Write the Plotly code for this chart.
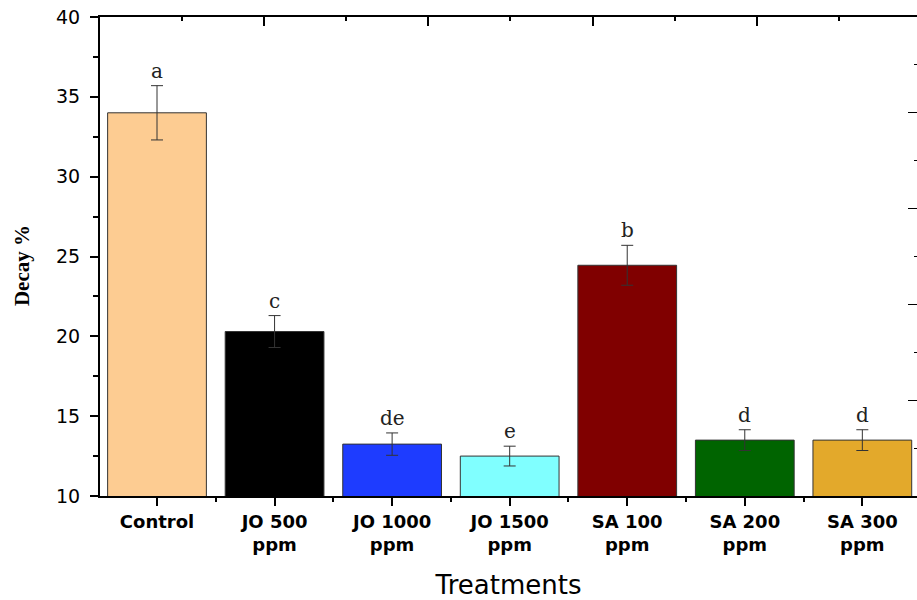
import plotly.graph_objects as go

categories = ["Control", "JO 500<br>ppm", "JO 1000<br>ppm", "JO 1500<br>ppm",
              "SA 100<br>ppm", "SA 200<br>ppm", "SA 300<br>ppm"]
decay = [34.0, 20.3, 13.25, 12.5, 24.45, 13.5, 13.5]
errors = [1.7, 1.0, 0.7, 0.62, 1.25, 0.65, 0.65]
letters = ["a", "c", "de", "e", "b", "d", "d"]
colors = ["#FDCC92", "#000000", "#1E3CFF", "#80FFFF", "#800000", "#006400", "#E3A92B"]

xpos = list(range(len(categories)))

fig = go.Figure()
fig.add_trace(go.Bar(
    x=xpos, y=decay, width=0.84,
    marker=dict(color=colors, line=dict(color="#333333", width=1)),
    error_y=dict(type="data", array=errors, color="#333333", thickness=1, width=6),
    showlegend=False,
))
# empty helper trace so the frame axes (top / right) are rendered
fig.add_trace(go.Scatter(x=[None], y=[None], xaxis="x2", yaxis="y2", mode="markers",
                         showlegend=False, hoverinfo="skip"))

for xi, v, e, t in zip(xpos, decay, errors, letters):
    fig.add_annotation(x=xi, y=v + e, text=t, showarrow=False, yanchor="bottom",
                       yshift=1, font=dict(family="DejaVu Serif", size=20, color="#222222"))

# y-axis title (placed slightly below the axis centre as in the reference)
fig.add_annotation(xref="paper", yref="paper", x=0, y=0.48, xshift=-78, textangle=-90,
                   text="<b>Decay %</b>", showarrow=False, xanchor="center", yanchor="middle",
                   font=dict(family="Liberation Serif", size=21, color="black"))

fig.update_layout(
    width=917, height=600,
    margin=dict(l=100, r=0, t=17, b=104),
    plot_bgcolor="white", paper_bgcolor="white",
    xaxis=dict(
        range=[-0.485, 6.465],
        tickmode="array", tickvals=xpos,
        ticktext=["<b>" + c.replace("<br>", "</b><br><b>") + "</b>" for c in categories],
        ticks="outside", ticklen=8, tickwidth=2, tickcolor="black",
        minor=dict(tickvals=[i - 0.5 for i in range(len(categories) + 1)], ticks="outside",
                   ticklen=4, tickwidth=2, tickcolor="black"),
        showline=True, linewidth=2, linecolor="black",
        showgrid=False, zeroline=False,
        tickfont=dict(family="DejaVu Sans", size=18, color="black"),
        title=dict(text="Treatments", font=dict(family="DejaVu Sans", size=26, color="black"), standoff=22),
    ),
    yaxis=dict(
        range=[10, 40], dtick=5, tick0=10,
        ticks="outside", ticklen=8, tickwidth=2, tickcolor="black",
        minor=dict(dtick=2.5, ticks="outside", ticklen=5, tickwidth=2, tickcolor="black"),
        showline=True, linewidth=2, linecolor="black",
        showgrid=False, zeroline=False,
        tickfont=dict(family="DejaVu Sans", size=19, color="black"),
        ticklabelstandoff=6,
    ),
    xaxis2=dict(
        overlaying="x", side="top", anchor="y", range=[0, 4.976], dtick=1, tick0=0,
        ticks="inside", ticklen=9, tickwidth=2, tickcolor="black",
        minor=dict(dtick=0.5, ticks="inside", ticklen=4, tickwidth=2, tickcolor="black"),
        showline=True, linewidth=2, linecolor="black",
        showticklabels=False, showgrid=False, zeroline=False,
    ),
    yaxis2=dict(
        overlaying="y", side="right", anchor="x", range=[0, 5], dtick=1, tick0=0,
        ticks="inside", ticklen=9, tickwidth=1, tickcolor="black",
        minor=dict(dtick=0.5, ticks="inside", ticklen=3, tickwidth=1, tickcolor="black"),
        showline=False, showticklabels=False, showgrid=False, zeroline=False,
    ),
)

fig.write_html("out.html")
